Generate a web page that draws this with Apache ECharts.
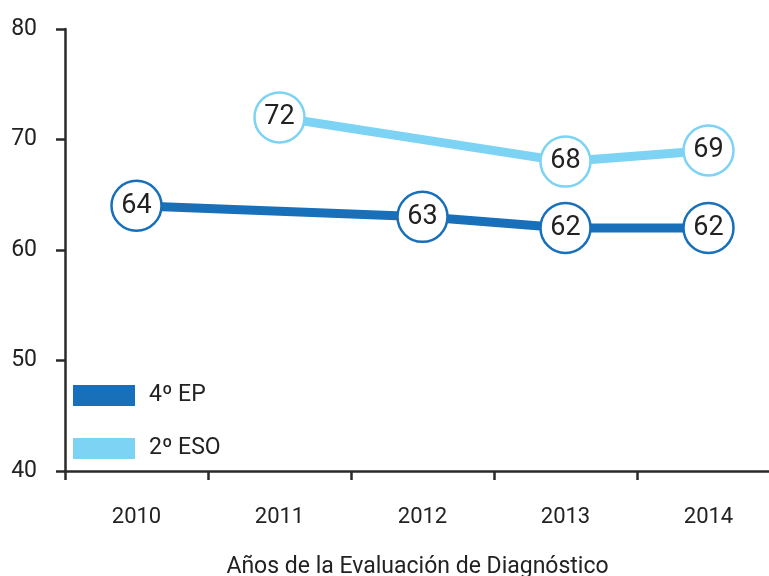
<!DOCTYPE html>
<html>
<head>
<meta charset="utf-8">
<script src="https://cdn.jsdelivr.net/npm/echarts@6/dist/echarts.min.js"></script>
<style>
  html, body { margin: 0; padding: 0; background: #fff; }
  #chart { width: 769px; height: 576px; }
</style>
</head>
<body>
<div id="chart"></div>
<script>
const years = ['2010', '2011', '2012', '2013', '2014']
const ep4 = [64, null, 63, 62, 62]
const eso2 = [null, 72, null, 68, 69]

const darkBlue = '#1770b9'
const lightBlue = '#7dd3f3'
const axisColor = '#2a2a2a'
const font = 'Roboto'

const chart = echarts.init(document.getElementById('chart'))

const makeSeries = (name, data, color) => ({
  name: name,
  type: 'line',
  data: data,
  connectNulls: true,
  symbol: 'circle',
  symbolSize: 50,
  lineStyle: { color: color, width: 9 },
  itemStyle: { color: '#fff', borderColor: color, borderWidth: 2.5 },
  label: {
    show: true,
    position: 'inside',
    color: '#222',
    fontFamily: font,
    fontSize: 27
  },
  emphasis: { disabled: true }
})

chart.setOption({
  animation: false,
  textStyle: { fontFamily: font },
  legend: {
    orient: 'vertical',
    left: 73,
    top: 384,
    padding: 0,
    itemWidth: 62,
    itemHeight: 21,
    itemGap: 30,
    textStyle: { fontSize: 23, color: '#222', fontFamily: font, padding: [0, 0, 0, 9] },
    data: [
      { name: '4º EP', icon: 'rect', itemStyle: { color: darkBlue, borderWidth: 0 } },
      { name: '2º ESO', icon: 'rect', itemStyle: { color: lightBlue, borderWidth: 0 } }
    ]
  },
  grid: {
    left: 65,
    right: -11,
    top: 29,
    bottom: 105,
    outerBoundsMode: 'none'
  },
  xAxis: {
    type: 'category',
    data: years,
    boundaryGap: true,
    name: 'Años de la Evaluación de Diagnóstico',
    nameLocation: 'middle',
    nameGap: 85,
    nameTextStyle: { fontSize: 23, color: '#222', fontFamily: font, padding: [0, 0, 0, -10] },
    axisLine: { lineStyle: { color: axisColor, width: 2.5 } },
    axisTick: { show: true, length: 9, lineStyle: { color: axisColor, width: 2.5 } },
    axisLabel: { color: '#222', fontSize: 22, margin: 35, fontFamily: font }
  },
  yAxis: {
    type: 'value',
    min: 40,
    max: 80,
    interval: 10,
    splitLine: { show: false },
    axisLine: { show: true, lineStyle: { color: axisColor, width: 2.5 } },
    axisTick: { show: true, length: 9, lineStyle: { color: axisColor, width: 2.5 } },
    axisLabel: { color: '#222', fontSize: 23, margin: 28, fontFamily: font }
  },
  series: [
    makeSeries('4º EP', ep4, darkBlue),
    makeSeries('2º ESO', eso2, lightBlue)
  ]
})
</script>
</body>
</html>
